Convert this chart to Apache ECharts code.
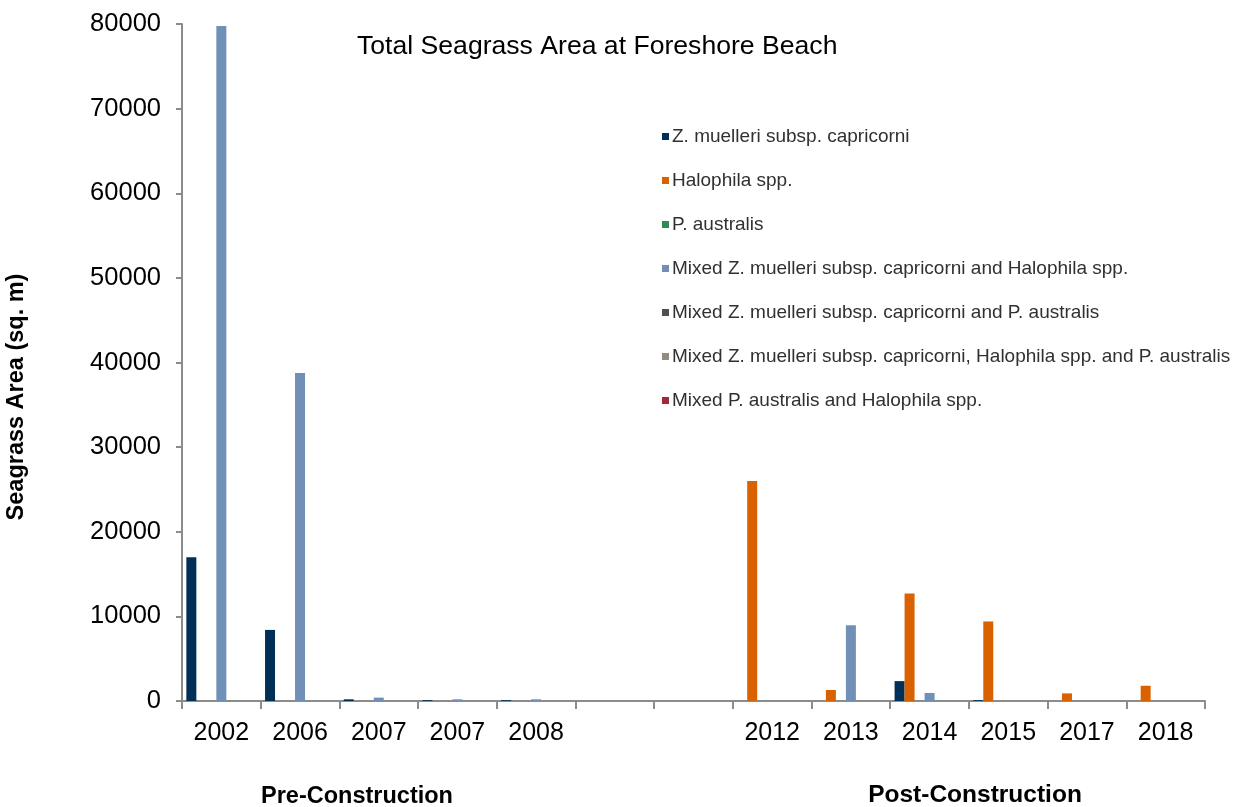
<!DOCTYPE html>
<html>
<head>
<meta charset="utf-8">
<script src="https://cdn.jsdelivr.net/npm/echarts@6/dist/echarts.min.js"></script>
<style>
html,body{margin:0;padding:0;background:#fff;}
#chart{width:1234px;height:807px;}
</style>
</head>
<body>
<div id="chart"></div>
<script>
// Category keys (unique) and the tick labels shown for them
var categoryKeys = ['c2002','c2006','c2007a','c2007b','c2008','gap1','gap2','c2012','c2013','c2014','c2015','c2017','c2018'];
var tickLabels = ['2002','2006','2007','2007','2008','','','2012','2013','2014','2015','2017','2018'];

var seriesNames = [
  'Z. muelleri subsp. capricorni',
  'Halophila spp.',
  'P. australis',
  'Mixed Z. muelleri subsp. capricorni and Halophila spp.',
  'Mixed Z. muelleri subsp. capricorni and P. australis',
  'Mixed Z. muelleri subsp. capricorni, Halophila spp. and P. australis',
  'Mixed P. australis and Halophila spp.'
];

var zMuelleri      = [17000, 8400, 200, 100, 100, 0, 0, 0, 0, 2350, 100, 0, 0];
var halophila      = [0, 0, 0, 0, 0, 0, 0, 26000, 1300, 12700, 9400, 900, 1800];
var pAustralis     = [0, 0, 0, 0, 0, 0, 0, 0, 0, 0, 0, 0, 0];
var mixedZH        = [79750, 38750, 400, 200, 200, 0, 0, 0, 8950, 950, 0, 0, 0];
var mixedZP        = [0, 0, 0, 0, 0, 0, 0, 0, 0, 0, 0, 0, 0];
var mixedZHP       = [0, 0, 0, 0, 0, 0, 0, 0, 0, 0, 0, 0, 0];
var mixedPH        = [0, 0, 0, 0, 0, 0, 0, 0, 0, 0, 0, 0, 0];

var yTicks = [0, 10000, 20000, 30000, 40000, 50000, 60000, 70000, 80000];

var colors = ['#003057', '#DA6100', '#2E8B57', '#7090B8', '#505050', '#958B80', '#A3283A'];
var allData = [zMuelleri, halophila, pAustralis, mixedZH, mixedZP, mixedZHP, mixedPH];

var chart = echarts.init(document.getElementById('chart'));
var axisColor = '#8c8c8c';
var font = 'Liberation Sans, Arial, sans-serif';

var series = seriesNames.map(function (n, i) {
  return {
    name: n,
    type: 'bar',
    data: allData[i],
    barWidth: 10,
    barGap: '0%',
    itemStyle: { color: colors[i] },
    emphasis: { disabled: true }
  };
});

chart.setOption({
  animation: false,
  color: colors,
  textStyle: { fontFamily: font },
  grid: { left: 182, right: 29, top: 24, bottom: 106, containLabel: false },
  legend: {
    orient: 'vertical',
    left: 657,
    top: 122,
    itemWidth: 7,
    itemHeight: 7,
    itemGap: 25,
    icon: 'rect',
    data: seriesNames,
    textStyle: { fontSize: 19, color: '#303030', fontFamily: font, lineHeight: 18, padding: [0, 0, 0, -2] }
  },
  xAxis: {
    type: 'category',
    data: categoryKeys,
    boundaryGap: true,
    axisLine: { lineStyle: { color: axisColor, width: 2 } },
    axisTick: { show: true, alignWithLabel: false, length: 8, lineStyle: { color: axisColor, width: 2 }, interval: 0 },
    axisLabel: {
      interval: 0,
      margin: 20,
      fontSize: 25,
      color: '#000',
      fontFamily: font,
      formatter: function (v, i) { return tickLabels[i]; }
    }
  },
  yAxis: {
    type: 'value',
    min: yTicks[0],
    max: yTicks[yTicks.length - 1],
    interval: yTicks[1] - yTicks[0],
    splitLine: { show: false },
    axisLine: { show: true, lineStyle: { color: axisColor, width: 2 } },
    axisTick: { show: true, length: 6, lineStyle: { color: axisColor, width: 2 } },
    axisLabel: { fontSize: 25.5, color: '#000', margin: 21, fontFamily: font, formatter: function (v) { return String(v); } }
  },
  graphic: [
    {
      type: 'text', x: 357, y: 47,
      style: { text: 'Total Seagrass Area at Foreshore Beach', font: '26.6px ' + font, fill: '#000', verticalAlign: 'middle' }
    },
    {
      type: 'text', x: 17, y: 397, rotation: Math.PI / 2,
      style: { text: 'Seagrass Area (sq. m)', font: 'bold 23.5px ' + font, fill: '#000', align: 'center', verticalAlign: 'middle' }
    },
    {
      type: 'text', x: 357, y: 797,
      style: { text: 'Pre-Construction', font: 'bold 23.5px ' + font, fill: '#000', align: 'center', verticalAlign: 'middle' }
    },
    {
      type: 'text', x: 975, y: 795,
      style: { text: 'Post-Construction', font: 'bold 24.5px ' + font, fill: '#000', align: 'center', verticalAlign: 'middle' }
    }
  ],
  series: series
});
</script>
</body>
</html>
